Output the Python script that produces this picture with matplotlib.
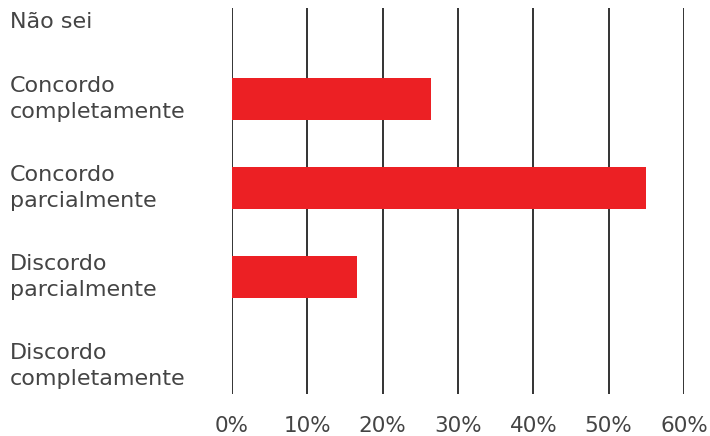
import matplotlib
matplotlib.use("Agg")
import matplotlib.pyplot as plt
import matplotlib.transforms as mtransforms
from matplotlib.ticker import FuncFormatter

categories = [
    "Discordo\ncompletamente",
    "Discordo\nparcialmente",
    "Concordo\nparcialmente",
    "Concordo\ncompletamente",
    "Não sei",
]
values = [0.0, 16.6, 55.0, 26.4, 0.0]
x_ticks = [0, 10, 20, 30, 40, 50, 60]

BAR_COLOR = "#EC2024"
GRID_COLOR = "#333333"
TEXT_COLOR = "#444444"

plt.rcParams["font.family"] = ["DejaVu Sans"]

fig = plt.figure(figsize=(7.10, 4.36), dpi=100)
ax = fig.add_axes([232 / 710, 1 - 394 / 436, (684 - 232) / 710, (394 - 8) / 436])

ypos = list(range(len(categories)))
ax.barh(ypos, values, height=0.47, color=BAR_COLOR, zorder=3)

for t in x_ticks:
    ax.axvline(t, color=GRID_COLOR, linewidth=1.4, zorder=1)

ax.set_xlim(x_ticks[0], x_ticks[-1])
ax.set_ylim(-0.315, 4.02)
ax.set_xticks(x_ticks)
ax.xaxis.set_major_formatter(FuncFormatter(lambda v, _: f"{v:.0f}%"))
ax.tick_params(axis="x", length=0, pad=16, labelsize=15.5, labelcolor=TEXT_COLOR)
ax.set_yticks([])
for s in ax.spines.values():
    s.set_visible(False)

trans = mtransforms.blended_transform_factory(fig.transFigure, ax.transData)
for y, lab in zip(ypos, categories):
    yy = y - 0.14 if "\n" not in lab else y
    ax.text(10 / 710, yy, lab, transform=trans, ha="left", va="center",
            fontsize=16, color=TEXT_COLOR, linespacing=1.4)

fig.savefig("out.png", dpi=100, facecolor="white")
